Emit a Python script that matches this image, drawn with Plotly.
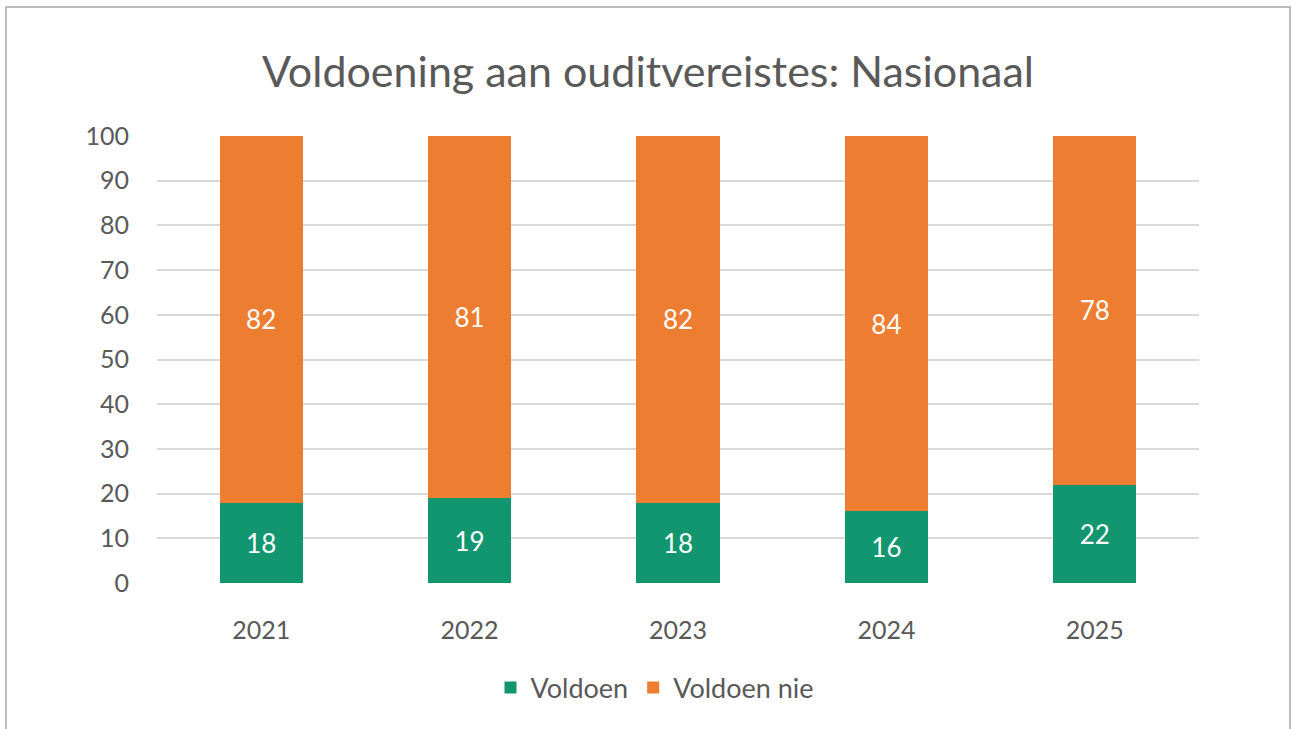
import plotly.graph_objects as go

years = ["2021", "2022", "2023", "2024", "2025"]
voldoen = [18, 19, 18, 16, 22]
voldoen_nie = [82, 81, 82, 84, 78]
y_ticks = [0, 10, 20, 30, 40, 50, 60, 70, 80, 90, 100]

GREEN = "#12966F"
ORANGE = "#ED7D31"
GRAY = "#595959"
FONT = "Lato"

fig = go.Figure()
fig.add_trace(go.Bar(
    x=years, y=voldoen, name="Voldoen", marker=dict(color=GREEN, line=dict(width=0)),
    text=[str(v) for v in voldoen], textposition="inside", insidetextanchor="middle",
    textfont=dict(color="white", size=26, family=FONT), hoverinfo="skip",
))
fig.add_trace(go.Bar(
    x=years, y=voldoen_nie, name="Voldoen nie", marker=dict(color=ORANGE, line=dict(width=0)),
    text=[str(v) for v in voldoen_nie], textposition="inside", insidetextanchor="middle",
    textfont=dict(color="white", size=26, family=FONT), hoverinfo="skip",
))

L, R, T, B = 157, 93, 136, 146
W, H = 1292, 729
pw, ph = W - L - R, H - T - B

fig.update_layout(
    width=W, height=H,
    barmode="stack", bargap=0.6,
    paper_bgcolor="white", plot_bgcolor="white",
    margin=dict(l=L, r=R, t=T, b=B, autoexpand=False),
    font=dict(family=FONT, color=GRAY, size=25),
    title=dict(text="Voldoening aan ouditvereistes: Nasionaal", x=(648 - L) / pw, xref="paper", xanchor="center",
               y=1 - 72 / H, yanchor="middle", font=dict(size=43, color=GRAY, family=FONT)),
    uniformtext=dict(mode=False),
    legend=dict(orientation="h", x=(655 - L) / pw, xanchor="center", y=(583 - 688) / ph, yanchor="middle",
                font=dict(size=27, color=GRAY, family=FONT), itemsizing="constant",
                traceorder="normal", itemwidth=30),
    showlegend=True,
    xaxis=dict(showgrid=False, showline=False, zeroline=False, ticks="",
               ticklabelstandoff=30, tickfont=dict(size=25, color=GRAY)),
    yaxis=dict(range=[0, 100], tickvals=y_ticks, showgrid=True, gridcolor="#D9D9D9", gridwidth=1.5,
               zeroline=False, showline=False, ticks="", ticklabelstandoff=27,
               tickfont=dict(size=25, color=GRAY)),
    shapes=[dict(type="rect", xref="paper", yref="paper",
                 x0=(6 - L) / pw, x1=(1290 - L) / pw,
                 y0=(H - B - 760) / ph, y1=(H - B - 7) / ph,
                 line=dict(color="#A6A6A6", width=1.5), fillcolor="rgba(0,0,0,0)", layer="below")],
)

fig.write_html("out.html", config={"displayModeBar": False},
               post_script="document.body.style.margin='0';")
